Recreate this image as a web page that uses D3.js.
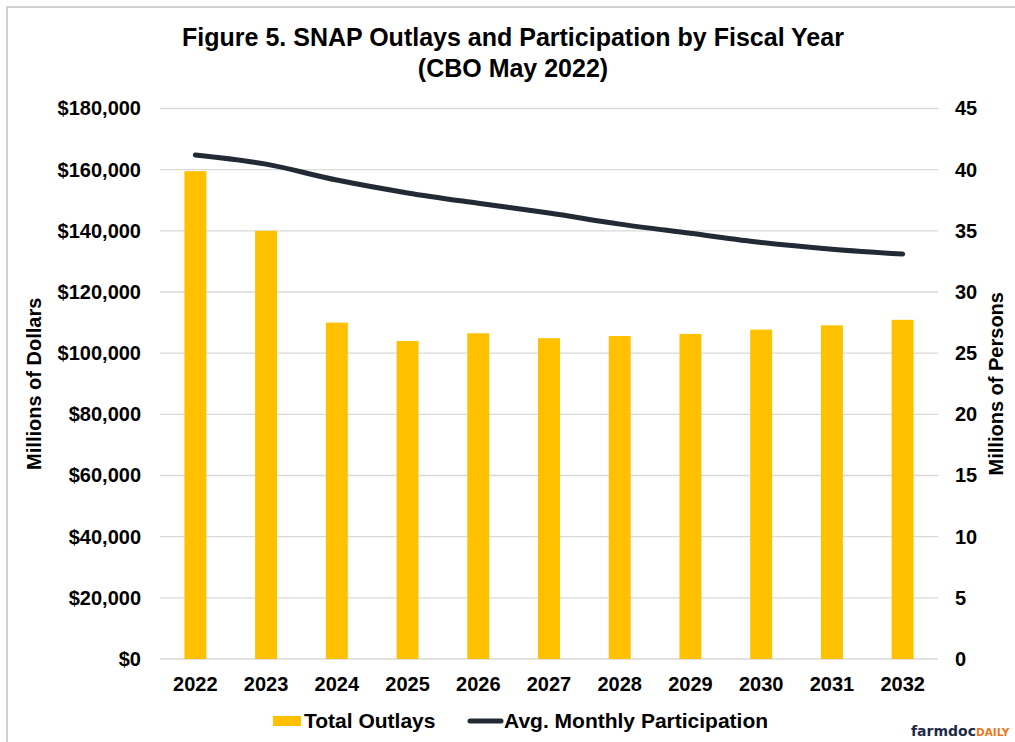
<!DOCTYPE html>
<html>
<head>
<meta charset="utf-8">
<script src="https://cdn.jsdelivr.net/npm/d3@7"></script>
<style>
  html, body { margin: 0; padding: 0; background: #fff; }
  svg { display: block; font-family: "Liberation Sans", Arial, sans-serif; }
</style>
</head>
<body>
<svg id="chart" width="1015" height="742"></svg>
<script>
const years = ["2022","2023","2024","2025","2026","2027","2028","2029","2030","2031","2032"];
const outlays = [159500, 140000, 110000, 104000, 106500, 104900, 105600, 106300, 107700, 109100, 110900];
const participation = [41.2, 40.45, 39.15, 38.1, 37.25, 36.45, 35.55, 34.8, 34.05, 33.5, 33.1];
const leftTicks = [0, 20000, 40000, 60000, 80000, 100000, 120000, 140000, 160000, 180000];
const rightTicks = [0, 5, 10, 15, 20, 25, 30, 35, 40, 45];

const svg = d3.select("#chart");
const M = {left: 160, right: 938, top: 108.5, bottom: 659};

// outer frame
svg.append("rect").attr("x", 7).attr("y", 7).attr("width", 1100).attr("height", 900)
  .attr("fill", "none").attr("stroke", "#d0d0d0").attr("stroke-width", 2);

const x = d3.scaleBand().domain(years).range([M.left, M.right]).paddingInner(0.69).paddingOuter(0.345);
const yL = d3.scaleLinear().domain([0, 180000]).range([M.bottom, M.top]);
const yR = d3.scaleLinear().domain([0, 45]).range([M.bottom, M.top]);

// gridlines
svg.append("g").selectAll("line").data(leftTicks).join("line")
  .attr("x1", M.left).attr("x2", M.right)
  .attr("y1", d => yL(d)).attr("y2", d => yL(d))
  .attr("stroke", "#d9d9d9").attr("stroke-width", 1.3);

// bars
svg.append("g").selectAll("rect").data(outlays).join("rect")
  .attr("x", (d, i) => x(years[i]))
  .attr("width", x.bandwidth())
  .attr("y", d => yL(d))
  .attr("height", d => yL(0) - yL(d))
  .attr("fill", "#ffc000");

// line
const line = d3.line()
  .x((d, i) => x(years[i]) + x.bandwidth() / 2)
  .y(d => yR(d))
  .curve(d3.curveMonotoneX);
svg.append("path").datum(participation)
  .attr("d", line).attr("fill", "none")
  .attr("stroke", "#222a35").attr("stroke-width", 5).attr("stroke-linecap", "round");

// left axis
const fmt = d => "$" + d3.format(",")(d);
const axL = d3.axisLeft(yL).tickValues(leftTicks).tickFormat(fmt).tickSize(0).tickPadding(19);
const gL = svg.append("g").attr("transform", `translate(${M.left},0)`).call(axL);
gL.select(".domain").remove();
gL.selectAll("text").attr("font-size", 20).attr("font-weight", "bold").attr("fill", "#000")
  .attr("font-family", "Liberation Sans, Arial, sans-serif");

// right axis
const axR = d3.axisRight(yR).tickValues(rightTicks).tickSize(0).tickPadding(17);
const gR = svg.append("g").attr("transform", `translate(${M.right},0)`).call(axR);
gR.select(".domain").remove();
gR.selectAll("text").attr("font-size", 20).attr("font-weight", "bold").attr("fill", "#000")
  .attr("font-family", "Liberation Sans, Arial, sans-serif");

// x axis
const axX = d3.axisBottom(x).tickSize(0).tickPadding(18);
const gX = svg.append("g").attr("transform", `translate(0,${M.bottom})`).call(axX);
gX.select(".domain").remove();
gX.selectAll("text").attr("font-size", 20).attr("font-weight", "bold").attr("fill", "#000")
  .attr("font-family", "Liberation Sans, Arial, sans-serif");

// titles
svg.append("text").attr("x", 513).attr("y", 46).attr("text-anchor", "middle")
  .attr("font-size", 25).attr("font-weight", "bold").text("Figure 5. SNAP Outlays and Participation by Fiscal Year");
svg.append("text").attr("x", 513).attr("y", 77).attr("text-anchor", "middle")
  .attr("font-size", 25).attr("font-weight", "bold").text("(CBO May 2022)");

svg.append("text").attr("transform", `translate(41,${(M.top + M.bottom) / 2}) rotate(-90)`)
  .attr("text-anchor", "middle").attr("font-size", 20).attr("font-weight", "bold").text("Millions of Dollars");
svg.append("text").attr("transform", `translate(1003,${(M.top + M.bottom) / 2}) rotate(-90)`)
  .attr("text-anchor", "middle").attr("font-size", 20).attr("font-weight", "bold").text("Millions of Persons");

// legend
const lg = svg.append("g");
lg.append("rect").attr("x", 273).attr("y", 716).attr("width", 28).attr("height", 10).attr("fill", "#ffc000");
lg.append("text").attr("x", 304).attr("y", 728).attr("font-size", 21).attr("font-weight", "bold").text("Total Outlays");
lg.append("line").attr("x1", 470).attr("x2", 501).attr("y1", 721).attr("y2", 721)
  .attr("stroke", "#222a35").attr("stroke-width", 5).attr("stroke-linecap", "round");
lg.append("text").attr("x", 504).attr("y", 728).attr("font-size", 21).attr("font-weight", "bold").text("Avg. Monthly Participation");

// logo
const logo = svg.append("text").attr("x", 911).attr("y", 736).attr("font-family", "DejaVu Sans, sans-serif").attr("font-weight", "bold");
logo.append("tspan").attr("font-size", 14).attr("fill", "#1f2a48").text("farmdoc");
logo.append("tspan").attr("font-size", 10.5).attr("fill", "#e87722").text("DAILY");
</script>
</body>
</html>
